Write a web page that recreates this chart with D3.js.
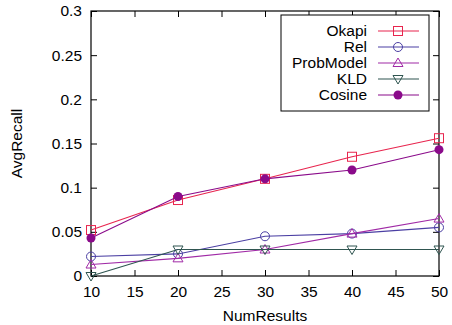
<!DOCTYPE html>
<html>
<head>
<meta charset="utf-8">
<script src="https://cdn.jsdelivr.net/npm/d3@7"></script>
<style>
  body { margin: 0; background: #fff; }
  svg text { font-family: "Liberation Sans", Arial, sans-serif; font-size: 15.5px; fill: #000; }
</style>
</head>
<body>
<svg id="chart" width="452" height="325"></svg>
<script>
// data
const numResults = [10, 20, 30, 40, 50];
const okapi = [0.052, 0.086, 0.110, 0.135, 0.156];
const rel = [0.022, 0.025, 0.045, 0.048, 0.055];
const probModel = [0.013, 0.020, 0.030, 0.048, 0.065];
const kld = [0.000, 0.030, 0.030, 0.030, 0.030];
const cosine = [0.043, 0.090, 0.110, 0.120, 0.143];
const xTicks = [10, 15, 20, 25, 30, 35, 40, 45, 50];
const yTicks = [0, 0.05, 0.1, 0.15, 0.2, 0.25, 0.3];

const series = [
  { name: 'Okapi', values: okapi, color: '#e8254e', marker: 'square' },
  { name: 'Rel', values: rel, color: '#4b3fa3', marker: 'circle' },
  { name: 'ProbModel', values: probModel, color: '#a02aa6', marker: 'triangle' },
  { name: 'KLD', values: kld, color: '#2f5550', marker: 'triangleDown' },
  { name: 'Cosine', values: cosine, color: '#8a0a8a', marker: 'dot' }
];

const svg = d3.select('#chart');
const plotLeft = 91, plotRight = 439, plotTop = 11, plotBottom = 276;

const x = d3.scaleLinear().domain([10, 50]).range([plotLeft, plotRight]);
const y = d3.scaleLinear().domain([0, 0.3]).range([plotBottom, plotTop]);

// ticks on all four sides, pointing inward
const tickLen = 6;
svg.append('g').attr('transform', `translate(0,${plotBottom})`)
  .call(d3.axisBottom(x).tickValues(xTicks).tickSize(-tickLen).tickPadding(10).tickFormat(d3.format('d')))
  .call(g => g.select('.domain').remove());
svg.append('g').attr('transform', `translate(0,${plotTop})`)
  .call(d3.axisTop(x).tickValues(xTicks).tickSize(-tickLen).tickFormat(''))
  .call(g => g.select('.domain').remove());
svg.append('g').attr('transform', `translate(${plotLeft},0)`)
  .call(d3.axisLeft(y).tickValues(yTicks).tickSize(-tickLen).tickPadding(9).tickFormat(d => d === 0 ? '0' : String(+d.toFixed(2))))
  .call(g => g.select('.domain').remove());
svg.append('g').attr('transform', `translate(${plotRight},0)`)
  .call(d3.axisRight(y).tickValues(yTicks).tickSize(-tickLen).tickFormat(''))
  .call(g => g.select('.domain').remove());

svg.selectAll('.tick line').attr('stroke', '#000');
svg.selectAll('.tick text').style('font-size', '15.5px').style('font-family', '"Liberation Sans", Arial, sans-serif');

svg.append('rect')
  .attr('x', plotLeft).attr('y', plotTop)
  .attr('width', plotRight - plotLeft).attr('height', plotBottom - plotTop)
  .attr('fill', 'none').attr('stroke', '#000').attr('stroke-width', 1.2);

function drawMarker(g, type, cx, cy, color) {
  if (type === 'square') {
    g.append('rect').attr('x', cx - 4.5).attr('y', cy - 4.5).attr('width', 9).attr('height', 9)
      .attr('fill', 'none').attr('stroke', color).attr('stroke-width', 1);
  } else if (type === 'circle') {
    g.append('circle').attr('cx', cx).attr('cy', cy).attr('r', 4.5)
      .attr('fill', 'none').attr('stroke', color).attr('stroke-width', 1);
  } else if (type === 'dot') {
    g.append('circle').attr('cx', cx).attr('cy', cy).attr('r', 4.5).attr('fill', color);
  } else if (type === 'triangle') {
    g.append('path').attr('d', `M${cx},${cy - 5}L${cx + 5},${cy + 3.5}L${cx - 5},${cy + 3.5}Z`)
      .attr('fill', 'none').attr('stroke', color).attr('stroke-width', 1);
  } else if (type === 'triangleDown') {
    g.append('path').attr('d', `M${cx},${cy + 5}L${cx + 5},${cy - 3.5}L${cx - 5},${cy - 3.5}Z`)
      .attr('fill', 'none').attr('stroke', color).attr('stroke-width', 1);
  }
}

const line = d3.line().x((d, i) => x(numResults[i])).y(d => y(d));

series.forEach(s => {
  const g = svg.append('g');
  g.append('path').datum(s.values).attr('d', line)
    .attr('fill', 'none').attr('stroke', s.color).attr('stroke-width', 1.1);
  s.values.forEach((v, i) => drawMarker(g, s.marker, x(numResults[i]), y(v), s.color));
});

// legend
const legend = svg.append('g');
legend.append('rect').attr('x', 281).attr('y', 15).attr('width', 148).attr('height', 96)
  .attr('fill', '#fff').attr('stroke', '#000').attr('stroke-width', 1);
series.forEach((s, i) => {
  const ly = 31 + i * 16;
  legend.append('text').attr('x', 367).attr('y', ly).attr('dy', '0.35em')
    .attr('text-anchor', 'end').text(s.name);
  legend.append('line').attr('x1', 378).attr('x2', 419).attr('y1', ly).attr('y2', ly)
    .attr('stroke', s.color).attr('stroke-width', 1.1);
  drawMarker(legend, s.marker, 398, ly, s.color);
});

// axis titles
svg.append('text').attr('x', (plotLeft + plotRight) / 2).attr('y', 321).attr('text-anchor', 'middle').text('NumResults');
svg.append('text').attr('transform', `translate(22,${(plotTop + plotBottom) / 2}) rotate(-90)`)
  .attr('text-anchor', 'middle').text('AvgRecall');
</script>
</body>
</html>
